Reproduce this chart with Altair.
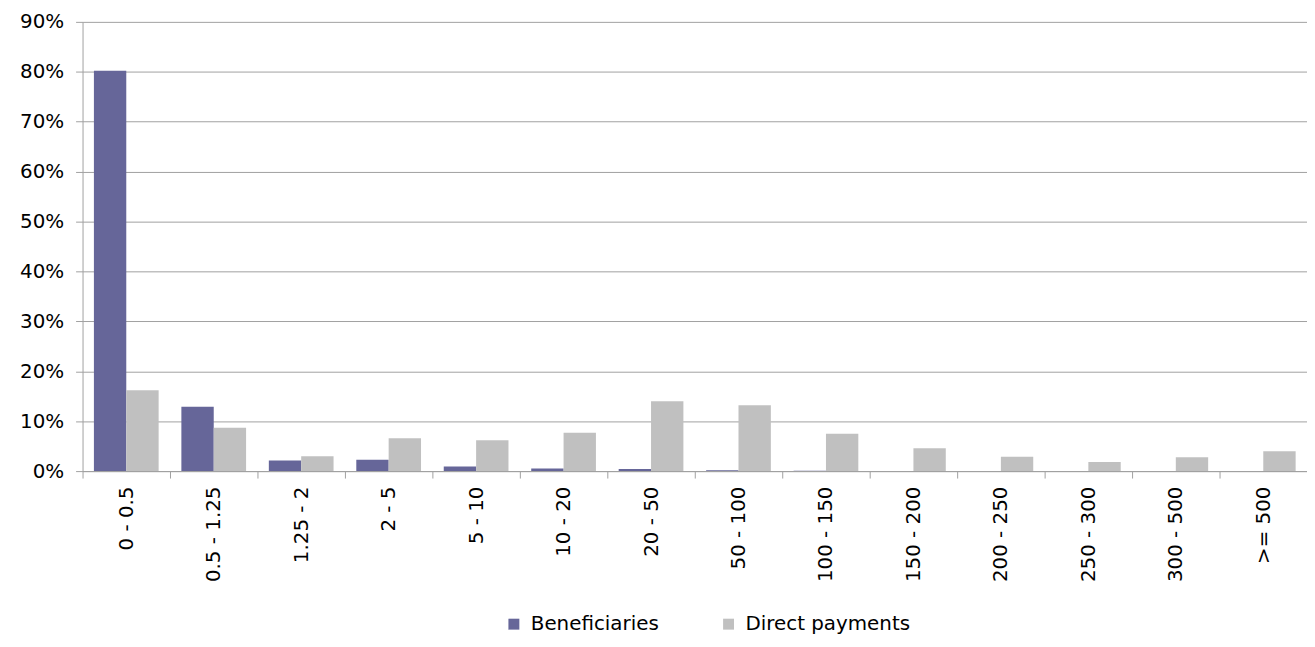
import altair as alt
import pandas as pd

categories = ["0 - 0.5", "0.5 - 1.25", "1.25 - 2", "2 - 5", "5 - 10", "10 - 20", "20 - 50",
              "50 - 100", "100 - 150", "150 - 200", "200 - 250", "250 - 300", "300 - 500", ">= 500"]
beneficiaries = [80.2, 12.9, 2.1, 2.3, 0.9, 0.5, 0.4, 0.15, 0.05, 0.02, 0.01, 0.005, 0.005, 0.003]
direct_payments = [16.2, 8.7, 3.0, 6.6, 6.2, 7.7, 14.0, 13.2, 7.5, 4.6, 2.9, 1.8, 2.8, 4.0]
series = ["Beneficiaries", "Direct payments"]
colors = ["#666699", "#C0C0C0"]

rows = []
for c, b, d in zip(categories, beneficiaries, direct_payments):
    rows.append({"cat": c, "series": series[0], "value": b / 100})
    rows.append({"cat": c, "series": series[1], "value": d / 100})
df = pd.DataFrame(rows)

FONT = "DejaVu Sans"
AX = "#A0A0A0"

chart = alt.Chart(df).mark_bar().encode(
    x=alt.X("cat:N", sort=categories, title=None,
            scale=alt.Scale(paddingInner=0.26, paddingOuter=0.13),
            axis=alt.Axis(labelAngle=-90, labelFont=FONT, labelFontSize=20, labelColor="#000000",
                          domainColor=AX, tickColor=AX, tickSize=7, tickOffset=-44,
                          labelOffset=44, labelPadding=8, grid=False)),
    xOffset=alt.XOffset("series:N", sort=series, scale=alt.Scale(paddingInner=0, paddingOuter=0)),
    y=alt.Y("value:Q", title=None,
            scale=alt.Scale(domain=[0, 0.9], nice=False),
            axis=alt.Axis(format=".0%", values=[i / 10 for i in range(10)],
                          labelFont=FONT, labelFontSize=20, labelColor="#000000",
                          domainColor=AX, tickColor=AX, tickSize=7, labelPadding=12,
                          gridColor=AX, gridWidth=1)),
    color=alt.Color("series:N", sort=series, scale=alt.Scale(domain=series, range=colors),
                    legend=alt.Legend(title=None, orient="none", legendX=424, legendY=596,
                                      direction="horizontal", symbolType="square",
                                      symbolSize=121, symbolStrokeWidth=0,
                                      labelFont=FONT, labelFontSize=20, labelColor="#000000",
                                      labelLimit=400, labelOffset=7, columnPadding=60)),
).properties(
    width=1232, height=452,
    autosize=alt.AutoSizeParams(type="none"),
    padding={"left": 75, "top": 12, "right": 0, "bottom": 172},
).configure_view(stroke=None).configure_axis(domainWidth=1)

chart.save("out.html", embed_options={"renderer": "svg", "actions": False})
